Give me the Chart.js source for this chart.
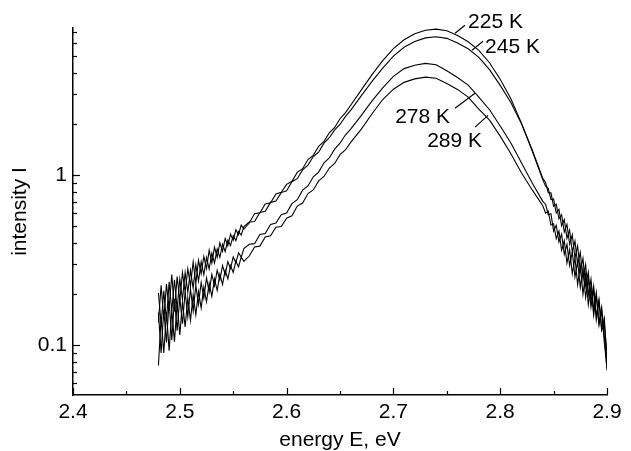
<!DOCTYPE html>
<html>
<head>
<meta charset="utf-8">
<script src="https://cdn.jsdelivr.net/npm/chart.js@4.4.1/dist/chart.umd.min.js"></script>
<style>
  html, body { margin: 0; padding: 0; background: #fff; }
  #wrap { width: 631px; height: 451px; }
</style>
</head>
<body>
<div id="wrap"><canvas id="spectra" width="631" height="451"></canvas></div>
<script>
// photon energy, eV (same grid for all four spectra)
const energy = [
    2.480, 2.4825, 2.485, 2.4875, 2.490, 2.4925, 2.495, 2.4975, 2.500, 2.5025, 2.505,
    2.5075, 2.510, 2.5125, 2.515, 2.5175, 2.520, 2.5225, 2.525, 2.5275, 2.530, 2.5325,
    2.535, 2.5375, 2.540, 2.5425, 2.545, 2.5475, 2.550, 2.5525, 2.555, 2.5575, 2.560,
    2.565, 2.570, 2.575, 2.580, 2.585, 2.590, 2.595, 2.600, 2.605, 2.610,
    2.615, 2.620, 2.625, 2.630, 2.635, 2.640, 2.645, 2.650, 2.655, 2.660,
    2.67, 2.68, 2.69, 2.70, 2.71, 2.72, 2.73, 2.74, 2.75, 2.76, 2.77, 2.78, 2.79,
    2.80, 2.81, 2.82, 2.83, 2.84,
    2.8425, 2.845, 2.8475, 2.850, 2.8525, 2.855, 2.8575, 2.860, 2.8625, 2.865, 2.8675,
    2.870, 2.8725, 2.875, 2.8775, 2.880, 2.8825, 2.885, 2.8875, 2.890, 2.8925, 2.895,
    2.8975, 2.900
];

// intensity for each temperature
const i225 = [
    0.136, 0.225, 0.142, 0.229, 0.164, 0.261, 0.158, 0.254, 0.183, 0.268, 0.205,
    0.282, 0.224, 0.309, 0.232, 0.316, 0.263, 0.333, 0.282, 0.363, 0.305, 0.378,
    0.329, 0.401, 0.357, 0.425, 0.385, 0.451, 0.414, 0.478, 0.447, 0.510, 0.483,
    0.524, 0.594, 0.602, 0.678, 0.690, 0.776, 0.795, 0.884, 0.921, 1.040,
    1.093, 1.238, 1.310, 1.482, 1.584, 1.778, 1.911, 2.151, 2.328, 2.58,
    3.18, 3.91, 4.73, 5.56, 6.27, 6.79, 7.13, 7.24, 7.08, 6.64, 6.10, 5.43, 4.59,
    3.67, 2.82, 2.02, 1.41, 0.955,
    0.907, 0.789, 0.788, 0.657, 0.676, 0.554, 0.586, 0.464, 0.515, 0.393, 0.446,
    0.327, 0.383, 0.272, 0.324, 0.224, 0.269, 0.180, 0.223, 0.148, 0.186, 0.125,
    0.145, 0.079
];
const i245 = [
    0.203, 0.134, 0.209, 0.139, 0.236, 0.159, 0.243, 0.164, 0.245, 0.186, 0.268,
    0.205, 0.276, 0.217, 0.298, 0.239, 0.310, 0.260, 0.329, 0.281, 0.349, 0.305,
    0.369, 0.329, 0.393, 0.356, 0.416, 0.386, 0.441, 0.413, 0.467, 0.445, 0.499,
    0.531, 0.534, 0.604, 0.615, 0.693, 0.705, 0.791, 0.811, 0.916, 0.955,
    1.076, 1.148, 1.289, 1.369, 1.545, 1.663, 1.848, 1.990, 2.211, 2.41,
    2.94, 3.57, 4.27, 5.02, 5.66, 6.12, 6.43, 6.53, 6.39, 5.99, 5.55, 4.94, 4.18,
    3.38, 2.68, 2.00, 1.39, 0.936,
    0.863, 0.837, 0.720, 0.727, 0.600, 0.630, 0.505, 0.549, 0.426, 0.475, 0.354,
    0.411, 0.298, 0.352, 0.245, 0.298, 0.197, 0.245, 0.162, 0.205, 0.136, 0.168,
    0.113, 0.071
];
const i278 = [
    0.156, 0.090, 0.161, 0.104, 0.182, 0.107, 0.188, 0.122, 0.190, 0.134, 0.206,
    0.147, 0.214, 0.159, 0.224, 0.174, 0.234, 0.189, 0.249, 0.206, 0.261, 0.224,
    0.276, 0.242, 0.294, 0.261, 0.310, 0.283, 0.331, 0.306, 0.350, 0.330, 0.370,
    0.393, 0.396, 0.449, 0.455, 0.514, 0.523, 0.587, 0.600, 0.681, 0.718,
    0.818, 0.865, 0.980, 1.044, 1.184, 1.265, 1.424, 1.544, 1.724, 1.87,
    2.25, 2.74, 3.27, 3.82, 4.24, 4.44, 4.55, 4.47, 4.12, 3.76, 3.39, 2.88, 2.43,
    1.95, 1.55, 1.18, 0.90, 0.70,
    0.676, 0.586, 0.594, 0.470, 0.508, 0.405, 0.451, 0.342, 0.392, 0.294, 0.353,
    0.252, 0.313, 0.219, 0.283, 0.191, 0.246, 0.168, 0.212, 0.141, 0.181, 0.122,
    0.134, 0.089
];
const i289 = [
    0.076, 0.146, 0.090, 0.157, 0.093, 0.161, 0.105, 0.177, 0.115, 0.180, 0.128,
    0.190, 0.140, 0.198, 0.151, 0.207, 0.166, 0.220, 0.180, 0.232, 0.194, 0.246,
    0.210, 0.262, 0.228, 0.276, 0.246, 0.294, 0.268, 0.312, 0.289, 0.330, 0.312,
    0.335, 0.379, 0.383, 0.434, 0.441, 0.495, 0.500, 0.559, 0.577, 0.659,
    0.687, 0.781, 0.820, 0.927, 0.984, 1.103, 1.174, 1.323, 1.409, 1.56,
    1.87, 2.30, 2.79, 3.21, 3.52, 3.69, 3.78, 3.72, 3.47, 3.20, 2.88, 2.45, 2.11,
    1.70, 1.34, 1.03, 0.82, 0.66,
    0.599, 0.615, 0.510, 0.519, 0.424, 0.470, 0.362, 0.413, 0.305, 0.365, 0.264,
    0.327, 0.228, 0.293, 0.200, 0.261, 0.173, 0.222, 0.150, 0.195, 0.131, 0.158,
    0.104, 0.074
];

const seriesNames = ['225 K', '245 K', '278 K', '289 K'];

// axis ticks
const xMajorTicks = [2.4, 2.5, 2.6, 2.7, 2.8, 2.9];
const xMinorTicks = [2.45, 2.55, 2.65, 2.75, 2.85];
const yMajorTicks = [0.1, 1];
const yMinorTicks = [0.06, 0.07, 0.08, 0.09, 0.2, 0.3, 0.4, 0.5, 0.6, 0.7, 0.8, 0.9, 2, 3, 4, 5, 6, 7];

// curve labels: leader from the curve (x0,y0) to (x1,y1), text anchored at (tx,ty)
const curveLabels = [
    { text: '225 K', x0: 2.7577, y0: 6.85, x1: 2.767, y1: 7.62, tx: 2.7699, ty: 7.33, align: 'left' },
    { text: '245 K', x0: 2.7736, y0: 5.44, x1: 2.7839, y1: 6.14, tx: 2.7858, ty: 5.22, align: 'left' },
    { text: '278 K', x0: 2.7764, y0: 3.04, x1: 2.7577, y1: 2.48, tx: 2.753, ty: 2.02, align: 'right' },
    { text: '289 K', x0: 2.7886, y0: 2.25, x1: 2.7764, y1: 1.92, tx: 2.783, ty: 1.46, align: 'right' }
];

const FONT = 'Liberation Sans';

function toPoints(values) {
    return values.map((v, i) => ({ x: energy[i], y: v }));
}

// inward tick marks, like the original plot
const tickMarks = {
    id: 'tickMarks',
    afterDraw(chart) {
        const { ctx, chartArea, scales } = chart;
        ctx.save();
        ctx.strokeStyle = '#000';
        ctx.lineWidth = 1.2;
        const drawX = (v, len) => {
            const px = Math.round(scales.x.getPixelForValue(v)) + 0.5;
            ctx.beginPath();
            ctx.moveTo(px, chartArea.bottom);
            ctx.lineTo(px, chartArea.bottom - len);
            ctx.stroke();
        };
        const drawY = (v, len) => {
            const py = Math.round(scales.y.getPixelForValue(v)) + 0.5;
            ctx.beginPath();
            ctx.moveTo(chartArea.left, py);
            ctx.lineTo(chartArea.left + len, py);
            ctx.stroke();
        };
        xMajorTicks.forEach(v => drawX(v, 7));
        xMinorTicks.forEach(v => drawX(v, 4));
        yMajorTicks.forEach(v => drawY(v, 7));
        yMinorTicks.forEach(v => drawY(v, 4));
        ctx.restore();
    }
};

const curveLabelPlugin = {
    id: 'curveLabels',
    afterDatasetsDraw(chart) {
        const { ctx, scales } = chart;
        ctx.save();
        ctx.strokeStyle = '#000';
        ctx.lineWidth = 1.2;
        ctx.fillStyle = '#000';
        ctx.font = '21px "' + FONT + '"';
        ctx.textBaseline = 'alphabetic';
        curveLabels.forEach(lab => {
            ctx.beginPath();
            ctx.moveTo(scales.x.getPixelForValue(lab.x0), scales.y.getPixelForValue(lab.y0));
            ctx.lineTo(scales.x.getPixelForValue(lab.x1), scales.y.getPixelForValue(lab.y1));
            ctx.stroke();
            ctx.textAlign = lab.align;
            ctx.fillText(lab.text, scales.x.getPixelForValue(lab.tx), scales.y.getPixelForValue(lab.ty));
        });
        ctx.restore();
    }
};

const series = [i225, i245, i278, i289];

new Chart(document.getElementById('spectra'), {
    type: 'line',
    data: {
        datasets: series.map((vals, k) => ({
            label: seriesNames[k],
            data: toPoints(vals),
            borderColor: '#000',
            borderWidth: 1.1,
            pointRadius: 0,
            tension: 0,
            fill: false
        }))
    },
    options: {
        responsive: false,
        devicePixelRatio: 1,
        animation: false,
        layout: { padding: { top: 28, right: 24, left: 0, bottom: 0 } },
        plugins: {
            legend: { display: false },
            tooltip: { enabled: false }
        },
        scales: {
            x: {
                type: 'linear',
                min: 2.4,
                max: 2.9,
                afterBuildTicks: s => { s.ticks = xMajorTicks.map(v => ({ value: v })); },
                afterFit: s => { s.height = 56; },
                grid: { display: false, drawTicks: false },
                border: { display: true, color: '#000', width: 1.5 },
                ticks: {
                    color: '#000',
                    padding: 5,
                    maxRotation: 0,
                    font: { family: FONT, size: 21 },
                    callback: v => v.toFixed(1)
                },
                title: {
                    display: true,
                    text: 'energy E, eV',
                    color: '#000',
                    font: { family: FONT, size: 21, lineHeight: 1.0 },
                    padding: { top: 0, bottom: 0 }
                }
            },
            y: {
                type: 'logarithmic',
                min: 0.051,
                max: 7.35,
                afterBuildTicks: s => { s.ticks = yMajorTicks.map(v => ({ value: v })); },
                afterFit: s => { s.width = 73; },
                grid: { display: false, drawTicks: false },
                border: { display: true, color: '#000', width: 1.5 },
                ticks: {
                    color: '#000',
                    padding: 6,
                    font: { family: FONT, size: 21 },
                    callback: v => String(v)
                },
                title: {
                    display: true,
                    text: 'intensity I',
                    color: '#000',
                    font: { family: FONT, size: 21, lineHeight: 1.0 },
                    padding: { top: 10, bottom: 0 }
                }
            }
        }
    },
    plugins: [tickMarks, curveLabelPlugin]
});
</script>
</body>
</html>
